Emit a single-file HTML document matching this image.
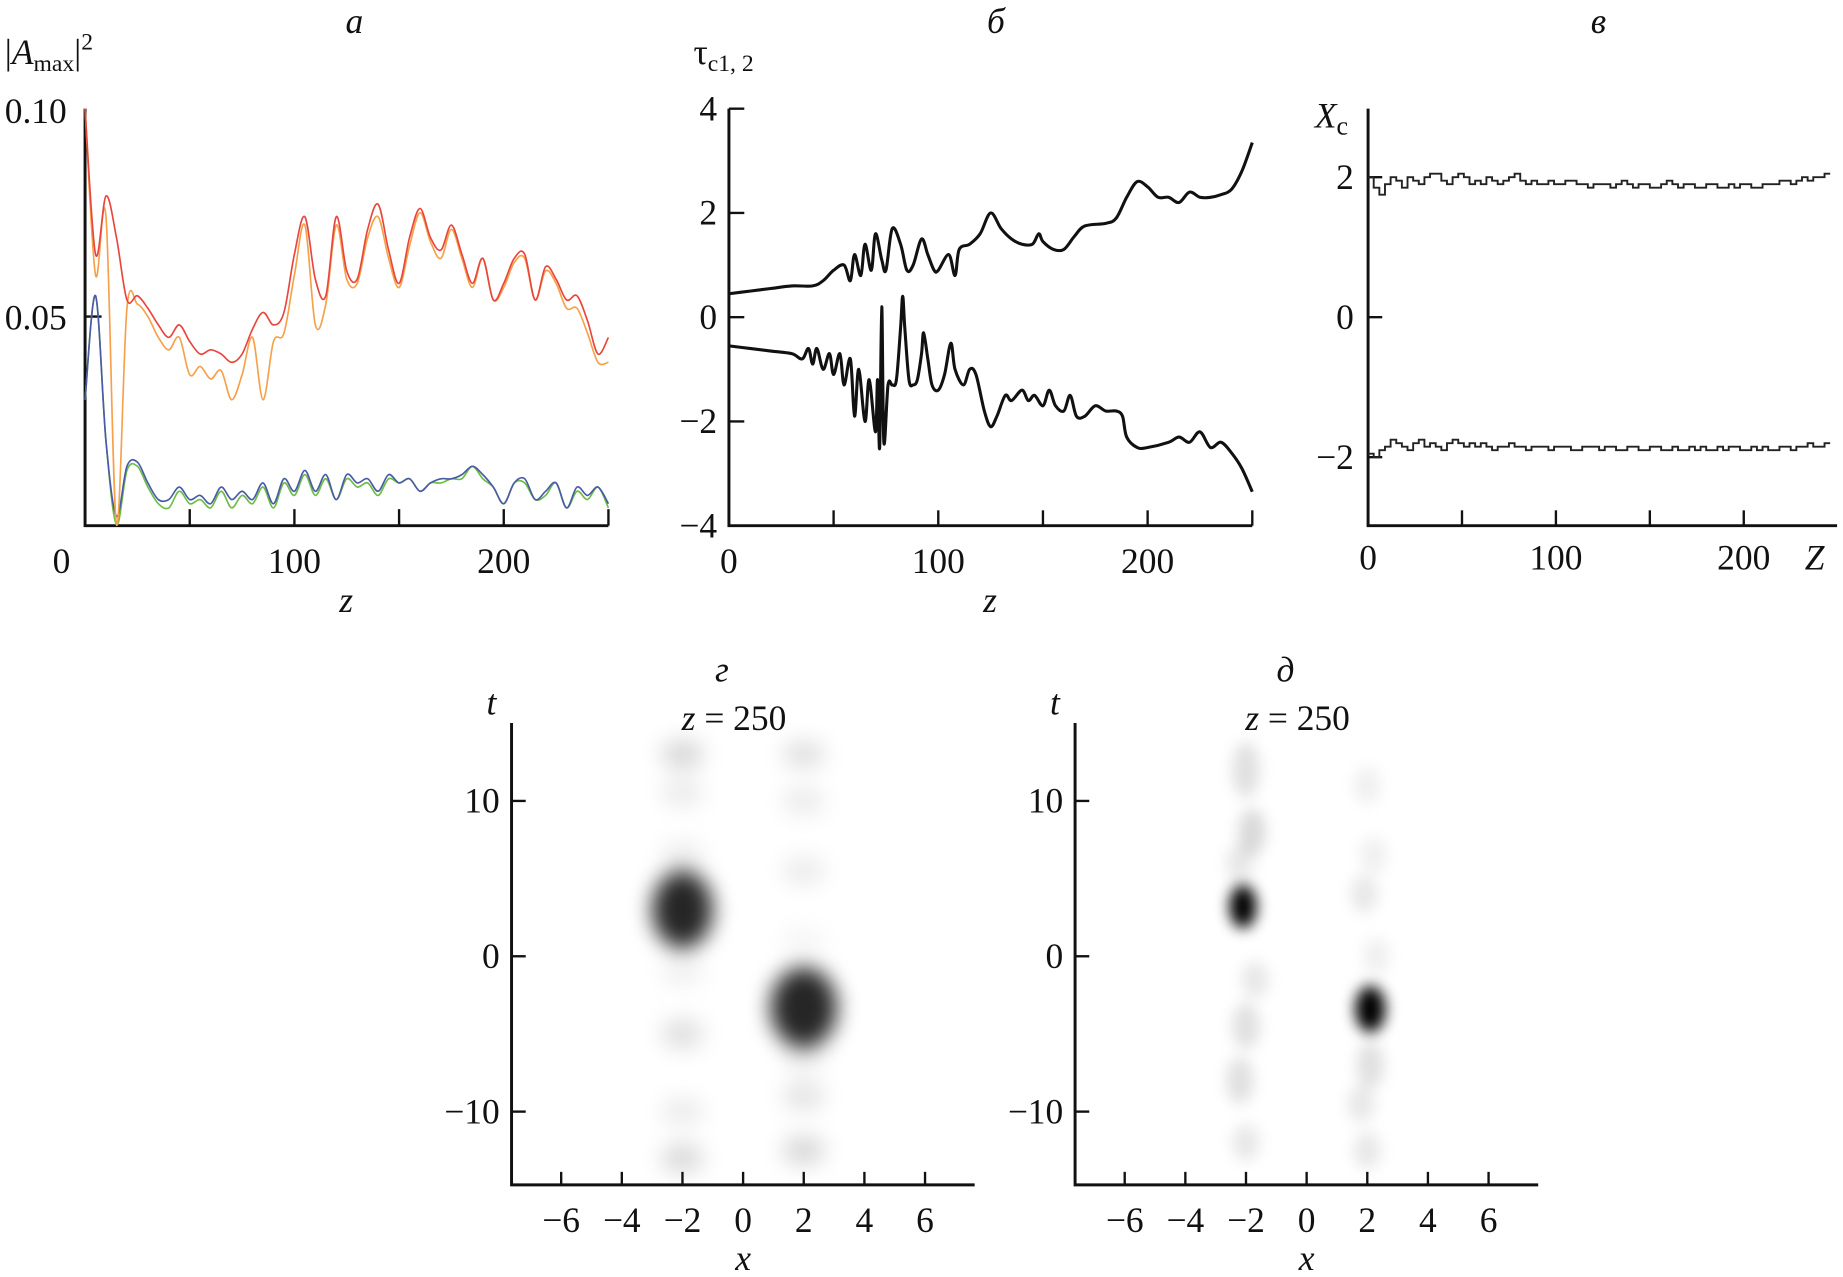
<!DOCTYPE html>
<html><head><meta charset="utf-8"><style>
html,body{margin:0;padding:0;background:#fff;}
svg{display:block;}
text{font-family:"Liberation Serif",serif;fill:#111;}
</style></head><body>
<svg id="fig" width="1843" height="1277" viewBox="0 0 1560 1081" preserveAspectRatio="none" xmlns="http://www.w3.org/2000/svg">
<defs>
<filter id="blurA" x="-100%" y="-100%" width="300%" height="300%"><feGaussianBlur stdDeviation="9"/></filter>
<filter id="blurB" x="-100%" y="-100%" width="300%" height="300%"><feGaussianBlur stdDeviation="6"/></filter>
<clipPath id="clipD"><rect x="434" y="612" width="392" height="390"/></clipPath>
<clipPath id="clipE"><rect x="911" y="612" width="392" height="390"/></clipPath>
</defs>
<g id="root"></g>
</svg>
<script>
// ---- Panel a data ----
const zA = [0,5,10,15,20,25,30,35,40,45,50,55,60,65,70,75,80,85,90,95,100,105,110,115,120,125,130,135,140,145,150,155,160,165,170,175,180,185,190,195,200,205,210,215,220,225,230,235,240,245,250];
const redA = [0.100,0.065,0.079,0.069,0.054,0.055,0.052,0.048,0.045,0.048,0.044,0.041,0.042,0.041,0.039,0.041,0.047,0.051,0.048,0.051,0.065,0.074,0.059,0.055,0.074,0.061,0.059,0.071,0.077,0.066,0.058,0.069,0.076,0.069,0.066,0.072,0.065,0.058,0.064,0.054,0.058,0.064,0.065,0.054,0.062,0.059,0.054,0.055,0.049,0.041,0.045];
const orangeA = [0.100,0.060,0.074,0.000,0.052,0.053,0.050,0.045,0.042,0.045,0.036,0.038,0.035,0.037,0.030,0.036,0.045,0.030,0.044,0.046,0.060,0.072,0.048,0.053,0.072,0.059,0.058,0.069,0.074,0.064,0.057,0.067,0.075,0.068,0.064,0.071,0.064,0.057,0.064,0.054,0.057,0.063,0.064,0.054,0.061,0.058,0.052,0.052,0.046,0.039,0.039];
const blueA = [0.030,0.055,0.020,0.002,0.014,0.015,0.010,0.006,0.006,0.009,0.006,0.007,0.005,0.009,0.006,0.008,0.006,0.010,0.005,0.011,0.008,0.013,0.008,0.012,0.006,0.012,0.010,0.011,0.008,0.012,0.010,0.011,0.008,0.010,0.011,0.011,0.012,0.014,0.012,0.009,0.005,0.010,0.011,0.006,0.008,0.010,0.004,0.009,0.007,0.009,0.005];
const greenA = [0.030,0.055,0.020,0.000,0.013,0.014,0.009,0.005,0.004,0.008,0.005,0.006,0.004,0.008,0.004,0.007,0.005,0.009,0.004,0.010,0.007,0.012,0.007,0.011,0.006,0.011,0.009,0.010,0.007,0.011,0.010,0.011,0.008,0.010,0.010,0.011,0.011,0.014,0.011,0.009,0.005,0.010,0.010,0.006,0.007,0.010,0.004,0.008,0.006,0.009,0.004];
// ---- Panel b data ----
const zB1 = [0,10,20,30,40,45,50,55,58,60,63,65,68,70,73,75,78,82,85,88,92,95,98,100,105,108,110,115,120,125,130,135,140,145,148,150,155,160,165,170,180,185,190,195,200,205,210,215,220,225,230,235,240,245,250];
const tauB1 = [0.45,0.5,0.55,0.6,0.6,0.7,0.9,1.0,0.7,1.2,0.8,1.4,0.9,1.6,1.1,0.9,1.7,1.4,0.9,1.0,1.5,1.2,0.9,0.9,1.2,0.8,1.3,1.4,1.6,2.0,1.7,1.5,1.4,1.4,1.6,1.45,1.3,1.3,1.55,1.75,1.8,1.9,2.3,2.6,2.5,2.3,2.3,2.2,2.4,2.3,2.3,2.35,2.45,2.8,3.35];
const zB2 = [0,10,20,30,35,38,40,42,45,48,50,53,55,58,60,62,65,67,70,71,72,73,74,76,78,80,82,83,84,86,88,90,92,93,95,97,100,103,106,108,112,115,118,122,125,128,132,135,140,143,146,150,153,156,160,163,166,170,175,180,185,188,190,195,200,210,215,220,225,230,235,240,245,250];
const tauB2 = [-0.55,-0.6,-0.65,-0.7,-0.8,-0.6,-0.9,-0.6,-1.0,-0.7,-1.1,-0.7,-1.3,-0.8,-1.9,-1.0,-2.0,-1.2,-2.2,-1.2,-2.5,0.2,-2.4,-1.3,-1.3,-1.2,-0.2,0.4,-0.2,-1.2,-1.3,-1.2,-0.7,-0.3,-0.8,-1.3,-1.4,-1.1,-0.5,-1.0,-1.3,-1.0,-1.1,-1.8,-2.1,-1.9,-1.5,-1.6,-1.4,-1.6,-1.5,-1.7,-1.4,-1.7,-1.8,-1.5,-1.9,-1.9,-1.7,-1.8,-1.8,-1.9,-2.3,-2.5,-2.5,-2.4,-2.3,-2.4,-2.2,-2.5,-2.4,-2.6,-2.9,-3.35];
// ---- Panel c data (step every 3 z) ----
const xcUpper = [2.0,1.85,1.75,1.9,2.0,1.95,1.85,2.0,1.95,1.9,2.0,2.05,2.05,1.95,1.9,2.0,2.05,2.0,1.9,1.95,1.9,2.0,1.95,1.9,1.95,2.0,2.05,1.95,1.9,1.95,1.9,1.9,1.95,1.9,1.9,1.95,1.95,1.9,1.9,1.85,1.9,1.9,1.9,1.85,1.9,1.95,1.9,1.85,1.9,1.9,1.85,1.85,1.9,1.95,1.9,1.85,1.9,1.9,1.85,1.85,1.9,1.9,1.85,1.85,1.9,1.85,1.9,1.9,1.85,1.85,1.9,1.9,1.9,1.95,1.95,1.9,1.95,2.0,1.95,2.0,2.0,2.05,2.05];
const xcLower = [-1.95,-2.0,-1.9,-1.85,-1.75,-1.8,-1.85,-1.9,-1.8,-1.75,-1.85,-1.8,-1.85,-1.9,-1.8,-1.75,-1.8,-1.85,-1.8,-1.85,-1.8,-1.85,-1.9,-1.85,-1.85,-1.8,-1.85,-1.85,-1.9,-1.85,-1.85,-1.85,-1.9,-1.85,-1.85,-1.85,-1.9,-1.9,-1.85,-1.85,-1.85,-1.9,-1.85,-1.85,-1.9,-1.9,-1.85,-1.85,-1.9,-1.9,-1.85,-1.85,-1.9,-1.9,-1.85,-1.9,-1.9,-1.85,-1.9,-1.85,-1.9,-1.9,-1.85,-1.9,-1.85,-1.85,-1.9,-1.9,-1.85,-1.9,-1.85,-1.9,-1.9,-1.85,-1.85,-1.9,-1.85,-1.85,-1.8,-1.85,-1.85,-1.8,-1.8];
// ---- Panels d/e blob data ----
const blobDx = [-2,2,-2,-2,-2,-2,-2,-2,2,2,2,2,2,2,-2,2];
const blobDt = [3,-3.3,13,10.5,-5,-10,-13,6.5,13,10,5.5,-9,-12.5,-6.5,-1,1];
const blobDa = [0.85,0.85,0.15,0.08,0.12,0.08,0.14,0.07,0.12,0.08,0.08,0.1,0.15,0.07,0.06,0.04];
const blobDrx = [1.0,1.1,0.7,0.7,0.7,0.7,0.7,0.7,0.7,0.7,0.7,0.7,0.7,0.7,0.7,0.7];
const blobDry = [2.5,2.6,1.0,0.9,1.0,0.9,1.0,0.9,0.9,0.9,0.9,1.0,1.0,0.9,0.9,0.9];
const blobEx = [-2.1,2.1,-2,-1.8,-2.2,-1.7,-2,-2.2,-2,2.1,1.8,2.3,1.9,2.2,2,2];
const blobEt = [3.2,-3.4,12,8,6,-1.5,-4.5,-8,-12,-7,-9.5,0,4,6.5,11,-12.5];
const blobEa = [1.0,1.0,0.12,0.15,0.09,0.09,0.12,0.12,0.09,0.12,0.09,0.06,0.09,0.06,0.06,0.09];
const blobErx = [0.45,0.5,0.45,0.45,0.45,0.45,0.45,0.45,0.45,0.45,0.45,0.45,0.45,0.45,0.45,0.45];
const blobEry = [1.4,1.5,1.8,1.5,1.2,1.2,1.5,1.5,1.2,1.5,1.2,1.2,1.2,1.2,1.2,1.2];

const NS="http://www.w3.org/2000/svg";
const root=document.getElementById('root');
function mk(tag,attrs,parent,text){const e=document.createElementNS(NS,tag);for(const k in attrs)e.setAttribute(k,attrs[k]);if(text!==undefined)e.textContent=text;(parent||root).appendChild(e);return e;}
function lin(d0,d1,p0,p1){return v=>p0+(v-d0)*(p1-p0)/(d1-d0);}
function pathFrom(xs,ys,sx,sy,step){let d='';for(let i=0;i<xs.length;i++){const X=sx(xs[i]),Y=sy(ys[i]);if(i===0)d+='M'+X+','+Y;else if(step){d+='H'+X+'V'+Y;}else d+='L'+X+','+Y;}return d;}
function smoothFrom(xs,ys,sx,sy){const P=xs.map((x,i)=>[sx(x),sy(ys[i])]);let d='M'+P[0][0]+','+P[0][1];for(let i=0;i<P.length-1;i++){const p0=P[Math.max(i-1,0)],p1=P[i],p2=P[i+1],p3=P[Math.min(i+2,P.length-1)];const c1x=p1[0]+(p2[0]-p0[0])/6,c1y=p1[1]+(p2[1]-p0[1])/6,c2x=p2[0]-(p3[0]-p1[0])/6,c2y=p2[1]-(p3[1]-p1[1])/6;d+='C'+c1x+','+c1y+' '+c2x+','+c2y+' '+p2[0]+','+p2[1];}return d;}
function txt(x,y,s,size,opts,name){const t=mk('text',Object.assign({x:x,y:y,'font-size':size},opts||{}),root,s);return t;}

// ===== Panel a =====
const ax=lin(0,250,72,515), ay=lin(0,0.1,444,92);
let g=mk('g',{});


let l=mk('path',{d:'M72,92V445H515',fill:'none',stroke:'#111','stroke-width':2.5},g);


[50,100,150,200,250].forEach(v=>{const t=mk('line',{x1:ax(v),x2:ax(v),y1:445,y2:431,stroke:'#111','stroke-width':2},g);});
let tk=mk('line',{x1:72,x2:86,y1:ay(0.05),y2:ay(0.05),stroke:'#111','stroke-width':2},g);


[[greenA,'#6cbd45','series-green'],[blueA,'#4a5aa8','series-blue'],[orangeA,'#f7a04a','series-orange'],[redA,'#e8463c','series-red']].forEach(([arr,c,n])=>{const p=mk('path',{d:smoothFrom(zA,arr,ax,ay),fill:'none',stroke:c,'stroke-width':1.4},g);});
txt(300,28,'а',30,{'font-style':'italic','text-anchor':'middle'},'panel-a-title');
const yl=txt(4,54,'',30,{},'y-axis-title-a');
mk('tspan',{},yl,'|');mk('tspan',{'font-style':'italic'},yl,'A');mk('tspan',{'font-size':20,dy:6},yl,'max');mk('tspan',{dy:-6},yl,'|');mk('tspan',{'font-size':20,dy:-12},yl,'2');
txt(4,104,'0.10',30,{},'y-tick-label');
txt(4,279,'0.05',30,{},'y-tick-label');
[[0,'0'],[100,'100'],[200,'200']].forEach(([v,s])=>txt(v===0?52:ax(v),485,s,30,{'text-anchor':'middle'},'x-tick-label'));
txt(293,518,'z',30,{'font-style':'italic','text-anchor':'middle'},'x-axis-title-a');

// ===== Panel b =====
const bx=lin(0,250,617,1060), by=lin(-4,4,445,92);
g=mk('g',{});


l=mk('path',{d:'M617,92V445H1060',fill:'none',stroke:'#111','stroke-width':2.5},g);


[50,100,150,200,250].forEach(v=>{const t=mk('line',{x1:bx(v),x2:bx(v),y1:445,y2:432,stroke:'#111','stroke-width':2},g);});
[4,2,0,-2,-4].forEach(v=>{const t=mk('line',{x1:617,x2:630,y1:by(v),y2:by(v),stroke:'#111','stroke-width':2},g);txt(607,by(v)+10,v<0?'\u2212'+(-v):String(v),30,{'text-anchor':'end'},'y-tick-label');});
[[zB1,tauB1,'tau-c1-line'],[zB2,tauB2,'tau-c2-line']].forEach(([xs,ys,n])=>{const p=mk('path',{d:smoothFrom(xs,ys,bx,by),fill:'none',stroke:'#111','stroke-width':2.6,'stroke-linejoin':'round'},g);});
txt(843,28,'б',30,{'font-style':'italic','text-anchor':'middle'},'panel-b-title');
const yb=txt(587,54,'τ',30,{},'y-axis-title-b');mk('tspan',{'font-size':20,dy:6},yb,'c1, 2');
[[0,'0'],[100,'100'],[200,'200']].forEach(([v,s])=>txt(bx(v),485,s,30,{'text-anchor':'middle'},'x-tick-label'));
txt(838,518,'z',30,{'font-style':'italic','text-anchor':'middle'},'x-axis-title-b');

// ===== Panel c =====
const cx=lin(0,100,1158,1317), cy=lin(-2,2,387,150);
g=mk('g',{});


l=mk('path',{d:'M1158,92V445H1555',fill:'none',stroke:'#111','stroke-width':2.5},g);


[50,100,150,200].forEach(v=>{const t=mk('line',{x1:cx(v),x2:cx(v),y1:445,y2:432,stroke:'#111','stroke-width':2},g);});
[2,0,-2].forEach(v=>{const t=mk('line',{x1:1158,x2:1170,y1:cy(v),y2:cy(v),stroke:'#111','stroke-width':2},g);txt(1146,cy(v)+10,v<0?'\u2212'+(-v):String(v),30,{'text-anchor':'end'},'y-tick-label');});
const zC=xcUpper.map((_,i)=>i*3);
[[xcUpper,'xc-upper-line'],[xcLower,'xc-lower-line']].forEach(([ys,n])=>{const p=mk('path',{d:pathFrom(zC,ys,cx,cy,true),fill:'none',stroke:'#222','stroke-width':1.6},g);});
txt(1353,28,'в',30,{'font-style':'italic','text-anchor':'middle'},'panel-c-title');
const yc=txt(1113,108,'X',30,{'font-style':'italic'},'y-axis-title-c');mk('tspan',{'font-size':22,dy:6,'font-style':'normal'},yc,'c');
[[0,'0'],[100,'100'],[200,'200']].forEach(([v,s])=>txt(cx(v),482,s,30,{'text-anchor':'middle'},'x-tick-label'));
txt(1536,482,'Z',30,{'font-style':'italic','text-anchor':'middle'},'x-axis-title-c');

// ===== Panels d / e =====
function heat(left,title,bx_,bt,ba,brx,bry,clip,blur,name){
  const hx=lin(0,6,left+196,left+350), hy=lin(-10,10,941,678);
  const gg=mk('g',{});
  
  
  const bg=mk('g',{'clip-path':'url(#'+clip+')',filter:'url(#'+blur+')'},gg);
  for(let i=0;i<bx_.length;i++){
    const e=mk('ellipse',{cx:hx(bx_[i]),cy:hy(bt[i]),rx:hx(brx[i])-hx(0),ry:hy(0)-hy(bry[i]),fill:'#000','fill-opacity':ba[i]},bg);
    
    
  }
  const a=mk('path',{d:'M'+left+',612V1003H'+(left+392),fill:'none',stroke:'#111','stroke-width':2.5},gg);
  
  
  [-6,-4,-2,0,2,4,6].forEach(v=>{const t=mk('line',{x1:hx(v),x2:hx(v),y1:1003,y2:992,stroke:'#111','stroke-width':2},gg);txt(hx(v),1043,v<0?'\u2212'+(-v):String(v),30,{'text-anchor':'middle'},'x-tick-label');});
  [10,0,-10].forEach(v=>{const t=mk('line',{x1:left,x2:left+12,y1:hy(v),y2:hy(v),stroke:'#111','stroke-width':2},gg);txt(left-10,hy(v)+10,v<0?'\u2212'+(-v):String(v),30,{'text-anchor':'end'},'y-tick-label');});
  txt(hx(0),1075,'x',30,{'font-style':'italic','text-anchor':'middle'},'x-axis-title');
  txt(left-17,605,'t',30,{'font-style':'italic','text-anchor':'middle'},'y-axis-title');
  txt(hx(-0.7),577,title,30,{'font-style':'italic','text-anchor':'middle'},'panel-title');
  const zt=txt(hx(-0.3),618,'',30,{'text-anchor':'middle'},'panel-subtitle');
  mk('tspan',{'font-style':'italic'},zt,'z');mk('tspan',{},zt,' = 250');
}
heat(433,'г',blobDx,blobDt,blobDa,blobDrx,blobDry,'clipD','blurA','panel-d');
heat(910,'д',blobEx,blobEt,blobEa,blobErx,blobEry,'clipE','blurB','panel-e');
</script>
</body></html>
